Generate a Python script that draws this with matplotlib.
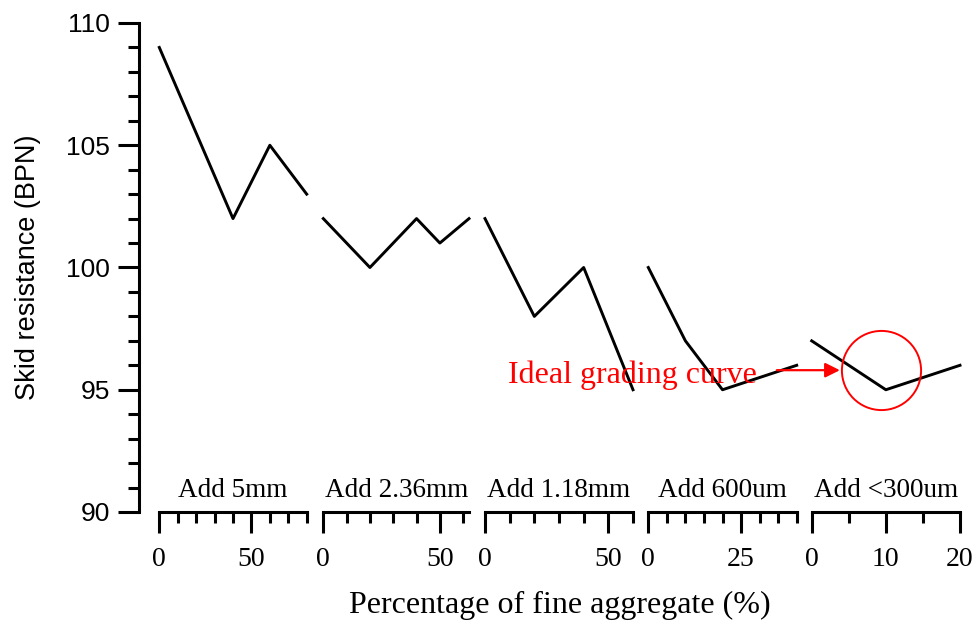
import matplotlib.pyplot as plt
from matplotlib.ticker import MultipleLocator, FixedLocator

# one line piece per added fraction
seg_names = ["Add 5mm", "Add 2.36mm", "Add 1.18mm", "Add 600um", "Add <300um"]
seg_x = [[0, 40, 60, 80],
         [0, 20, 40, 50, 62.5],
         [0, 20, 40, 60],
         [0, 10, 20, 40],
         [0, 10, 20]]
seg_y = [[109, 102, 105, 103],
         [102, 100, 102, 101, 102],
         [102, 98, 100, 95],
         [100, 97, 95, 96],
         [97, 95, 96]]
seg_xmax = [80, 62.5, 60, 40, 20]
seg_major = [[0, 50], [0, 50], [0, 50], [0, 25], [0, 10, 20]]
seg_minor = [10, 10, 10, 5, 5]

# ideal grading curve marker (in the last piece's units)
ideal_x = 9.3
ideal_y = 95.8

W, H = 976, 624
SERIF = "Liberation Serif"
SANS = "Liberation Sans"


def fx(px):
    return px / W


def fy(py):
    return (H - py) / H


if __name__ == '__main__':
    fig = plt.figure(figsize=(W / 100, H / 100), dpi=100)

    y_top, y_bot = 23, 512
    bottom = fy(y_bot)
    height = (y_bot - y_top) / H

    # main y axis
    ax = fig.add_axes([fx(139), bottom, fx(960 - 139), height])
    ax.set_ylim(90, 110)
    ax.set_xlim(0, 1)
    ax.patch.set_alpha(0)
    for s in ["top", "right", "bottom"]:
        ax.spines[s].set_visible(False)
    ax.spines["left"].set_linewidth(2.2)
    ax.set_xticks([])
    ax.yaxis.set_major_locator(MultipleLocator(5))
    ax.yaxis.set_minor_locator(MultipleLocator(1))
    ax.tick_params(axis="y", which="major", direction="out", length=15,
                   width=2.2, pad=6, labelsize=19)
    ax.tick_params(axis="y", which="minor", direction="out", length=8,
                   width=2.2)
    for lab in ax.get_yticklabels():
        lab.set_family(SANS)
    ax.set_ylabel("Skid resistance (BPN)", family=SANS, fontsize=19.5,
                  labelpad=18)

    lefts = [159.3, 323.3, 485, 648.3, 811.7]
    rights = [306.7, 469, 633, 796.7, 960]
    seg_axes = []
    for i in range(5):
        a = fig.add_axes([fx(lefts[i]), bottom, fx(rights[i] - lefts[i]),
                          height])
        a.patch.set_alpha(0)
        a.set_xlim(0, seg_xmax[i])
        a.set_ylim(90, 110)
        for s in ["top", "right", "left"]:
            a.spines[s].set_visible(False)
        a.spines["bottom"].set_linewidth(2.2)
        a.set_yticks([])
        a.xaxis.set_major_locator(FixedLocator(seg_major[i]))
        a.xaxis.set_minor_locator(MultipleLocator(seg_minor[i]))
        a.tick_params(axis="x", which="major", direction="out", length=15,
                      width=2.2, pad=10, labelsize=20)
        a.tick_params(axis="x", which="minor", direction="out", length=8,
                      width=2.2)
        for lab in a.get_xticklabels():
            lab.set_family(SERIF)
        a.plot(seg_x[i], seg_y[i], color="black", lw=2.1, clip_on=False)
        a.text(0.5, 15 / (y_bot - y_top), seg_names[i], transform=a.transAxes,
               ha="center", va="baseline", family=SERIF, fontsize=19.5)
        seg_axes.append(a)

    last = seg_axes[-1]
    last.plot([ideal_x], [ideal_y], "o", ms=57, mfc="none", mec="red",
              mew=1.4, clip_on=False)
    last.annotate("", xy=(3.8, ideal_y), xytext=(-4.7, ideal_y),
                  arrowprops=dict(arrowstyle="-|>", color="red", lw=1.6,
                                  mutation_scale=22, shrinkA=0, shrinkB=0))
    fig.text(fx(508), fy(383), "Ideal grading curve", color="red",
             family=SERIF, fontsize=23, ha="left", va="baseline")

    fig.text(fx(559.5), fy(605), "Percentage of fine aggregate (%)",
             family=SERIF, fontsize=23, ha="center", va="center")

    fig.savefig("out.png", dpi=100)
